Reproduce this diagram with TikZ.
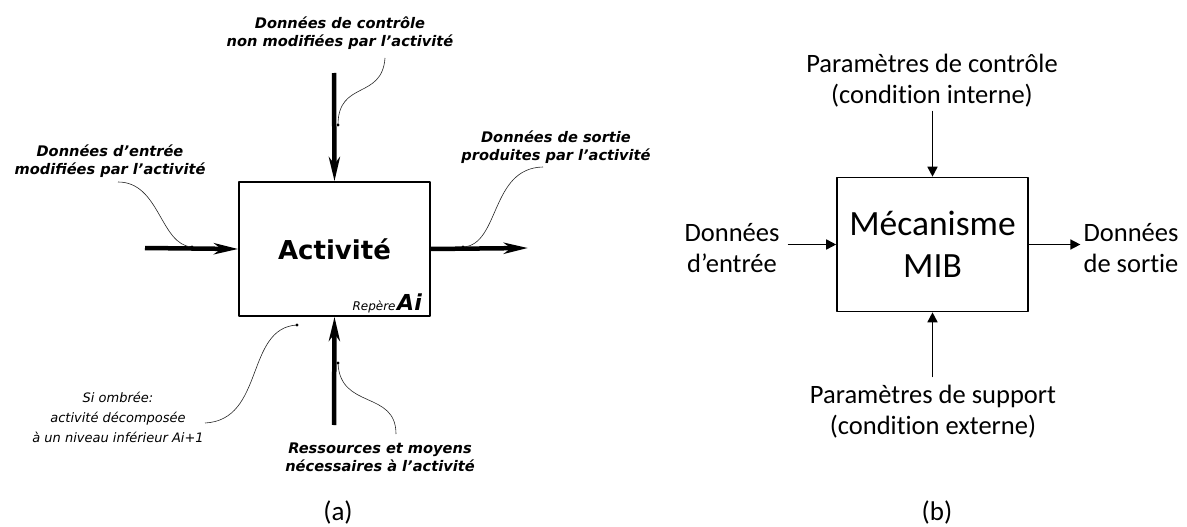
\documentclass[tikz,border=0pt]{standalone}
\usepackage{fontspec}
\setmainfont{Carlito}[Ligatures=NoCommon]
\newfontfamily\vera{DejaVu Sans}
\usetikzlibrary{arrows.meta}
\tikzset{
  box/.style={draw, line width=1.6pt, minimum width=191pt, minimum height=134pt, inner sep=0pt},
  bigflow/.style={line width=4.5pt, -{Stealth[length=24pt,width=11pt,inset=7pt]}},
  flow/.style={line width=1.6pt, -{Triangle[length=10pt,width=10pt]}},
  lead/.style={line width=0.6pt, black!85},
  tag/.style={font=\vera\bfseries\itshape\fontsize{14.6}{18}\selectfont, align=center, inner sep=0pt},
  note/.style={font=\vera\itshape\fontsize{13}{20}\selectfont, align=center, inner sep=0pt},
  lbl/.style={font=\fontsize{26.5}{31}\selectfont, align=center, inner sep=0pt}
}
\begin{document}
\begin{tikzpicture}[x=1pt,y=-1pt,line join=round,line cap=butt]
\useasboundingbox (0,0) rectangle (1187,527);
% (a) boite SADT
\node[box, font=\vera\bfseries\fontsize{26}{30}\selectfont] (act) at (334.5,249) {Activité};
\node[anchor=base east, inner sep=0pt] (rep) at (422,310) {{\vera\itshape\fontsize{12}{12}\selectfont Repère}\,{\vera\bfseries\itshape\fontsize{22}{24}\selectfont Ai}};
\coordinate (ctl0) at (334,73);
\coordinate (in0) at (145,248);
\coordinate (out1) at (528,248);
\coordinate (res0) at (334,425);
\draw[bigflow] (ctl0) -- (act.north);
\draw[bigflow] (in0) -- (act.west);
\draw[bigflow] (act.east) -- (out1);
\draw[bigflow] (res0) -- (act.south);
% legendes
\node[tag] (ctl) at (340,33) {Données de contrôle\\non modifiées par l’activité};
\node[tag] (in) at (110,161) {Données d’entrée\\modifiées par l’activité};
\node[tag] (out) at (556,147) {Données de sortie\\produites par l’activité};
\node[note] (dec) at (118,417) {Si ombrée:\\activité décomposée\\à un niveau inférieur Ai+1};
\node[tag] (res) at (380,457) {Ressources et moyens\\nécessaires à l’activité};
\coordinate (ctlfoot) at (385,58);  \coordinate (ctlpin) at (338,125);
\coordinate (infoot) at (118,182);  \coordinate (inpin) at (192,247);
\coordinate (outfoot) at (543,167); \coordinate (outpin) at (463,247);
\coordinate (decfoot) at (205,423); \coordinate (decpin) at (297,325);
\coordinate (resfoot) at (396,434); \coordinate (respin) at (338,363);
\draw[lead] (ctlfoot) .. controls (382,100) and (338,80) .. (ctlpin);
\draw[lead] (infoot) .. controls (160,182) and (160,245) .. (inpin);
\draw[lead] (outfoot) .. controls (490,168) and (500,245) .. (outpin);
\draw[lead] (decpin) .. controls (245,328) and (265,420) .. (decfoot);
\draw[lead] (respin) .. controls (340,410) and (396,390) .. (resfoot);
\foreach \p in {ctlpin,inpin,outpin,decpin,respin}{\fill[black] (\p) circle(1.6pt);}
% (b) mecanisme
\node[box, font=\fontsize{35.5}{42}\selectfont, align=center] (mib) at (932.5,244.5) {Mécanisme\\MIB};
\node[lbl] (pctl) at (932,81) {Paramètres de contrôle\\(condition interne)};
\node[lbl] (din) at (732,248) {Données\\d’entrée};
\node[lbl] (dout) at (1131,248) {Données\\de sortie};
\node[lbl] (psup) at (933,412) {Paramètres de support\\(condition externe)};
\draw[flow] ([yshift=-3pt]pctl.south -| mib.north) -- (mib.north);
\draw[flow] ([xshift=8pt]din.east |- mib.west) -- (mib.west);
\draw[flow] (mib.east) -- ([xshift=-3pt]dout.west |- mib.east);
\draw[flow] ([yshift=8pt]psup.north -| mib.south) -- (mib.south);
\node[lbl, font=\fontsize{27}{31}\selectfont] (capa) at (338,512) {(a)};
\node[lbl, font=\fontsize{27}{31}\selectfont] (capb) at (937,512) {(b)};
\end{tikzpicture}
\end{document}
